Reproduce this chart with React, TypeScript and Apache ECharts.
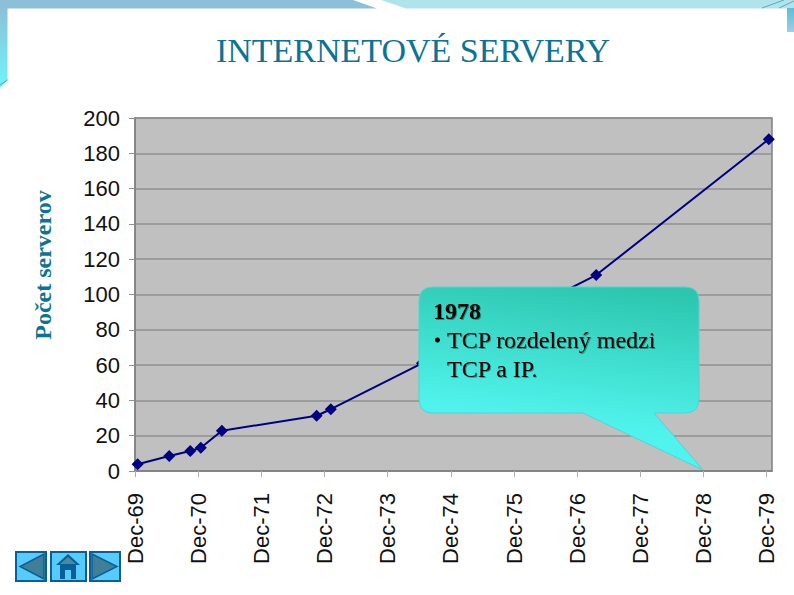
import React, { useEffect, useRef } from "react";
import * as echarts from "echarts";

const tickLabels = ["Dec-69","Dec-70","Dec-71","Dec-72","Dec-73","Dec-74","Dec-75","Dec-76","Dec-77","Dec-78","Dec-79"];
const monthsSinceStart = [0.5, 6.5, 10.5, 12.5, 16.5, 34.5, 37.2, 54.5, 87.6, 120.4];
const servers = [3.8, 8.5, 11.3, 13.2, 22.8, 31.3, 35, 61, 111, 188];
const titleText = "INTERNETOVÉ SERVERY";
const yAxisTitle = "Počet serverov";
const calloutHeading = "1978";
const calloutLines = ["TCP rozdelený medzi", "TCP a IP."];

const CALLOUT =
  "M433 287 L685 287 Q699 287 699 301 L699 399 Q699 413 685 413 L654 413 L703 470 L583 413 L433 413 Q419 413 419 399 L419 301 Q419 287 433 287 Z";
const HOUSE = "M68 554 L80 565 L76 565 L76 579 L60 579 L60 565 L56 565 Z";

export default function App() {
  const ref = useRef<HTMLDivElement>(null);
  useEffect(() => {
    document.body.style.margin = "0";
    document.body.style.background = "#fff";
    if (!ref.current) return;
    echarts.graphic.registerShape("calloutShape", echarts.graphic.extendPath(CALLOUT, {}));
    echarts.graphic.registerShape("houseShape", echarts.graphic.extendPath(HOUSE, {}));
    const chart = echarts.init(ref.current, undefined, { renderer: "svg" });
    const serif = '"Liberation Serif"';
    const titleColor = "#0b7396";
    const navBtn = (x: number, w: number) => ({
      type: "rect", z: 5, shape: { x: x + 1, y: 552, width: w - 2, height: 29 },
      style: { fill: "#55ccfb", stroke: "#0a5f98", lineWidth: 2 },
    });
    const frameGrad = (c1: string, c2: string) => new echarts.graphic.LinearGradient(0, 0, 0, 1, [
      { offset: 0, color: c1 }, { offset: 1, color: c2 },
    ]);
    const shadow = { textShadowColor: "rgba(0,0,0,0.35)", textShadowBlur: 1, textShadowOffsetX: 1, textShadowOffsetY: 1 };
    chart.setOption({
      animation: false,
      backgroundColor: "#ffffff",
      title: {
        text: titleText, left: 408, top: 28, textAlign: "center",
        textStyle: { fontFamily: serif, fontSize: 34, fontWeight: "normal", color: titleColor },
      },
      grid: { left: 135, top: 118, width: 637, height: 353, backgroundColor: "#c0c0c0", show: true, borderColor: "#808080", borderWidth: 1.5 },
      xAxis: {
        type: "value", min: 0, max: 121, interval: 12,
        splitLine: { show: false },
        axisLine: { lineStyle: { color: "#808080", width: 1.5 } },
        axisTick: { show: true, length: 6, lineStyle: { color: "#b0b0b0" }, customValues: tickLabels.map((_, i) => i * 12) },
        axisLabel: {
          rotate: 90, margin: 22, padding: [6, 0, 0, 0], fontFamily: '"Liberation Sans"', fontSize: 22, color: "#111",
          customValues: tickLabels.map((_, i) => i * 12),
          formatter: (v: number) => tickLabels[Math.round(v / 12)] ?? "",
        },
      },
      yAxis: {
        type: "value", min: 0, max: 200, interval: 20,
        splitLine: { show: true, lineStyle: { color: "#909090", width: 1.5 } },
        axisLine: { show: true, lineStyle: { color: "#808080", width: 1.5 } },
        axisTick: { show: true, length: 6, lineStyle: { color: "#909090" } },
        axisLabel: { margin: 15, fontFamily: '"Liberation Sans"', fontSize: 22, color: "#111" },
      },
      series: [{
        type: "line",
        data: monthsSinceStart.map((m, i) => [m, servers[i]]),
        symbol: "diamond", symbolSize: 12,
        lineStyle: { color: "#000080", width: 2 },
        itemStyle: { color: "#000080" },
      }],
      graphic: [
        { type: "polygon", z: 1, shape: { points: [[0, 0], [353, 0], [377, 8.5], [0, 8.5]] }, style: { fill: "#8cc0d8" } },
        { type: "polygon", z: 1, shape: { points: [[381, 0], [794, 0], [794, 8.5], [406, 8.5]] }, style: { fill: "#b0e4ea" } },
        { type: "polygon", z: 1, shape: { points: [[0, 8], [7.5, 8], [7.5, 80], [0, 88]] }, style: { fill: frameGrad("#8cc0d8", "#6ff5fa") } },
        { type: "rect", z: 1, shape: { x: 787, y: 8, width: 7, height: 24 }, style: { fill: frameGrad("#5fbcd8", "#9ccfe6") } },
        { type: "line", z: 2, shape: { x1: 762, y1: 8, x2: 784, y2: 0 }, style: { stroke: "#5fa8bc", lineWidth: 1 } },
        { type: "line", z: 2, shape: { x1: 779, y1: 8, x2: 794, y2: 1 }, style: { stroke: "#5fa8bc", lineWidth: 1 } },
        { type: "line", z: 2, shape: { x1: 0, y1: 85, x2: 7.5, y2: 80 }, style: { stroke: "#3fa8bc", lineWidth: 1 } },
        {
          type: "text", z: 3, x: 43, y: 265, rotation: Math.PI / 2,
          style: { text: yAxisTitle, fontFamily: serif, fontSize: 24, fontWeight: "bold", fill: titleColor, align: "center", verticalAlign: "middle" },
        },
        {
          type: "calloutShape", z: 10,
          style: {
            fill: new echarts.graphic.LinearGradient(0.75, 0, 0.55, 1, [
              { offset: 0, color: "#2cc6ae" }, { offset: 0.75, color: "#50f3ec" }, { offset: 1, color: "#4ef4f0" },
            ]),
            stroke: "#4fd4d8", lineWidth: 1,
          },
        },
        { type: "text", z: 11, x: 433, y: 311, style: { text: calloutHeading, fontFamily: serif, fontSize: 24, fontWeight: "bold", fill: "#000", verticalAlign: "middle", ...shadow } },
        { type: "circle", z: 11, shape: { cx: 437.5, cy: 340, r: 2.5 }, style: { fill: "#000" } },
        { type: "text", z: 11, x: 447, y: 340, style: { text: calloutLines[0], fontFamily: serif, fontSize: 24, fill: "#000", verticalAlign: "middle", ...shadow } },
        { type: "text", z: 11, x: 447, y: 369, style: { text: calloutLines[1], fontFamily: serif, fontSize: 24, fill: "#000", verticalAlign: "middle", ...shadow } },
        navBtn(15, 32), navBtn(50, 37), navBtn(89, 32),
        { type: "polygon", z: 6, shape: { points: [[44, 554], [44, 579], [20, 566.5]] }, style: { fill: "#3f8098", stroke: "#0a5f98", lineWidth: 1.5 } },
        { type: "polygon", z: 6, shape: { points: [[92, 554], [92, 579], [117, 566.5]] }, style: { fill: "#3f8098", stroke: "#0a5f98", lineWidth: 1.5 } },
        { type: "houseShape", z: 6, style: { fill: "#0a5f98" } },
        { type: "polygon", z: 7, shape: { points: [[68, 557], [76, 564], [60, 564]] }, style: { fill: "#4a8aa0" } },
        { type: "rect", z: 7, shape: { x: 65, y: 570, width: 6, height: 9 }, style: { fill: "#55ccfb" } },
      ],
    });
    return () => chart.dispose();
  }, []);
  return <div ref={ref} style={{ width: 794, height: 595 }} />;
}
